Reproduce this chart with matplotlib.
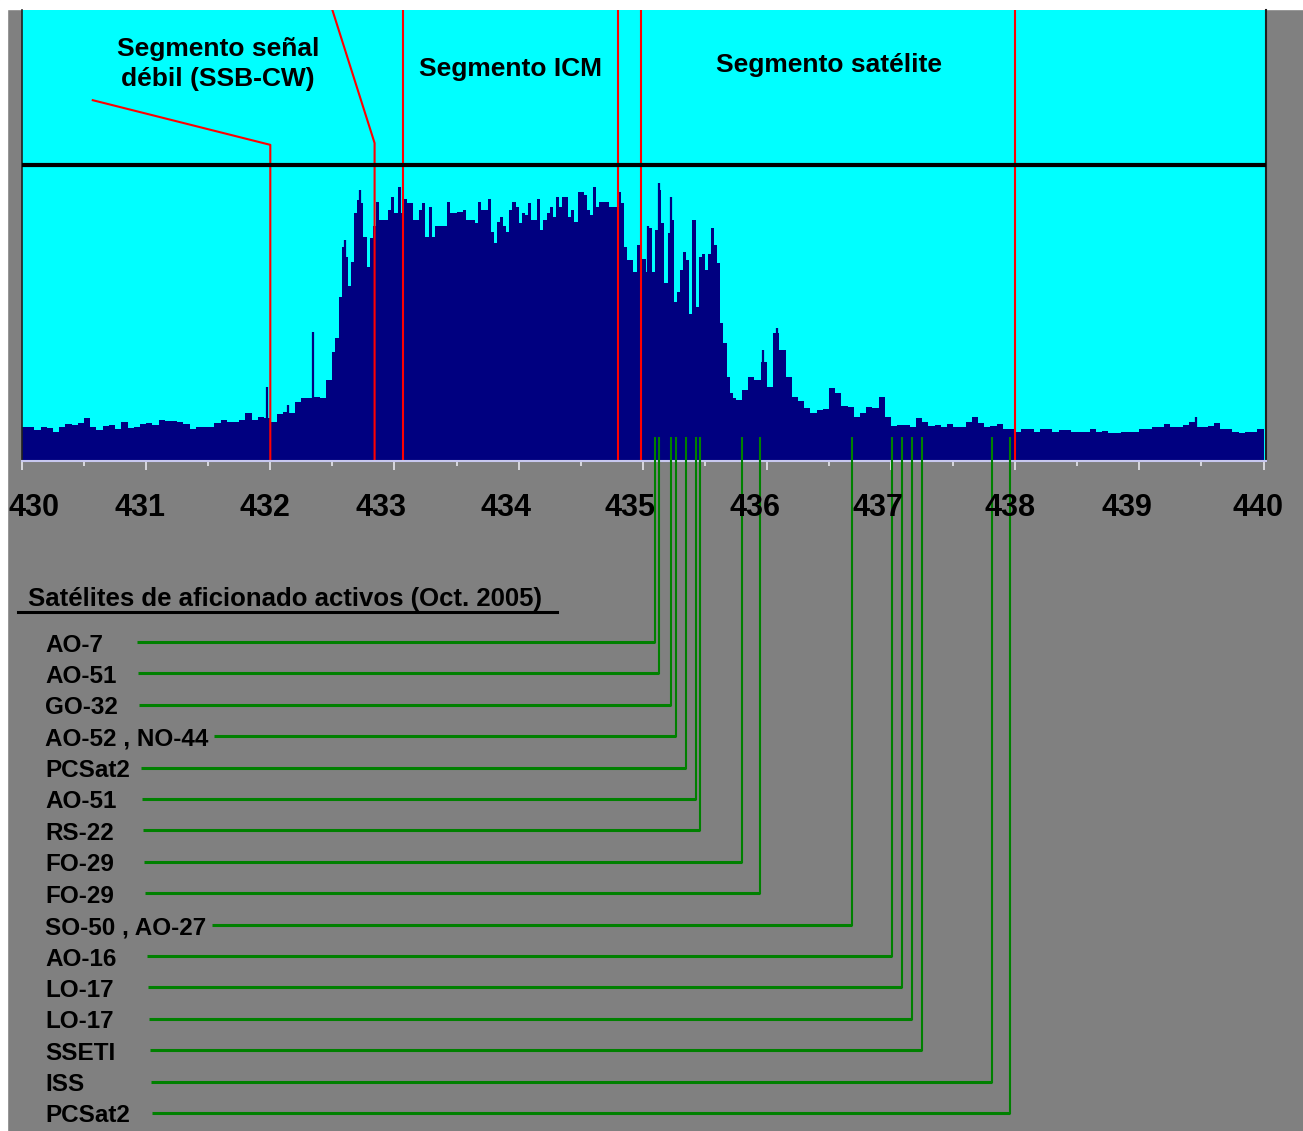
import numpy as np
import matplotlib.pyplot as plt

plt.rcParams['font.family'] = ['Liberation Sans', 'DejaVu Sans']

W, H = 1303, 1131

# spectrum levels in arbitrary units (0-100 = panel height)
# 430.0-432.5 MHz, 0.05 MHz bins
level_low = [
    7.6, 7.5, 6.9, 7.5, 7.3, 6.5, 7.6, 8.2, 8.0, 8.4,
    9.5, 7.5, 6.9, 7.8, 8.0, 7.0, 8.7, 7.3, 7.6, 8.2,
    8.5, 8.0, 9.2, 8.9, 8.9, 8.7, 8.2, 7.0, 7.6, 7.6,
    7.6, 8.5, 9.2, 8.7, 8.7, 9.2, 10.7, 9.1, 9.7, 9.6,
    8.7, 10.5, 10.9, 10.6, 13.1, 13.9, 14.0, 14.3, 13.9, 18.0,
]
# 432.5-435.75 MHz, 0.025 MHz bins (busy part of the band)
level_mid = [
    24.2, 27.2, 36.4, 47.5, 45.3, 38.7, 44.2, 54.9, 57.9, 57.1,
    49.7, 43.1, 49.4, 52.0, 57.5, 53.4, 53.4, 53.4, 55.7, 58.6,
    54.9, 60.8, 54.9, 58.2, 57.1, 57.1, 53.4, 53.4, 55.7, 57.1,
    49.7, 56.4, 49.7, 52.0, 52.0, 52.0, 52.0, 57.5, 54.9, 54.9,
    55.3, 55.3, 55.7, 53.4, 53.4, 53.4, 52.7, 57.5, 55.7, 55.7,
    58.2, 50.8, 48.3, 53.1, 54.2, 52.0, 50.8, 55.7, 57.5, 56.4,
    52.7, 54.9, 54.5, 57.1, 53.4, 53.4, 58.2, 51.2, 53.4, 54.9,
    56.4, 54.2, 58.6, 56.4, 58.6, 58.6, 54.2, 55.7, 53.1, 59.7,
    59.7, 59.0, 55.7, 54.5, 60.8, 56.4, 57.5, 57.5, 57.5, 56.4,
    56.4, 56.4, 59.7, 57.1, 47.5, 44.6, 44.6, 42.0, 47.9, 44.9,
    44.9, 42.0, 51.6, 42.0, 51.2, 60.1, 52.7, 39.4, 50.5, 53.4,
    35.3, 37.5, 42.4, 46.4, 44.6, 32.7, 53.4, 34.2, 45.3, 46.0,
    42.4, 46.0, 51.6, 47.9, 43.8, 30.5, 26.1, 18.7, 15.0, 13.9,
]
# 435.75-440.0 MHz, 0.05 MHz bins
level_high = [
    13.5, 15.7, 18.7, 18.0, 22.0, 16.5, 28.3, 24.6, 18.7, 14.3,
    13.2, 11.7, 10.6, 11.3, 11.5, 16.1, 15.0, 12.2, 11.9, 9.8,
    10.6, 11.9, 11.7, 14.3, 9.8, 7.8, 8.0, 8.0, 7.6, 9.5,
    8.7, 7.8, 8.0, 7.6, 8.2, 7.6, 7.5, 8.7, 9.7, 8.5,
    7.5, 7.8, 8.2, 7.0, 7.2, 6.5, 7.0, 7.2, 6.5, 7.0,
    7.0, 6.5, 6.9, 6.9, 6.5, 6.5, 6.5, 7.2, 6.5, 6.7,
    6.1, 6.3, 6.5, 6.5, 6.5, 7.2, 7.2, 7.5, 7.6, 8.2,
    7.5, 7.5, 7.9, 8.7, 7.6, 7.5, 7.8, 8.5, 7.2, 7.0,
    6.5, 6.1, 6.4, 6.5, 7.0,
]
# narrow carriers sticking out of the bins
spike_f = [431.975, 432.14, 432.345, 432.60, 432.72, 435.04, 435.13, 435.23,
           435.97, 436.08, 439.46]
spike_lv = [16.5, 12.4, 28.7, 49.0, 60.1, 52.0, 61.6, 58.6, 24.6, 29.4, 9.8]

threshold = 65.6
band_lines = [433.065, 434.80, 434.985, 438.0]
leader1_f = [432.0, 432.0, 430.57]
leader1_lv = [0, 70.1, 80.0]
leader2_f = [432.84, 432.84, 432.50]
leader2_lv = [0, 70.5, 100.0]

seg_text = ["Segmento señal\ndébil (SSB-CW)", "Segmento ICM", "Segmento satélite"]
seg_f = [431.58, 433.937, 436.497]
seg_lv = [88.0, 86.9, 87.7]

tick_vals = list(range(430, 441))
tick_dx = [12, -6, -5, -13, -13, -13, -12, -13, -5, -12, -6]

sat_title = "Satélites de aficionado activos (Oct. 2005)"
sat_names = ["AO-7", "AO-51", "GO-32", "AO-52 , NO-44", "PCSat2", "AO-51", "RS-22",
             "FO-29", "FO-29", "SO-50 , AO-27", "AO-16", "LO-17", "LO-17", "SSETI",
             "ISS", "PCSat2"]
sat_f = [435.097, 435.129, 435.225, 435.271, 435.352, 435.432, 435.465, 435.800,
         435.942, 436.688, 437.007, 437.088, 437.168, 437.249, 437.816, 437.961]
marker_top = 5.3

navy = "#000080"
cyan = "#00FFFF"
green = "#008000"

fig = plt.figure(figsize=(W / 100, H / 100), dpi=100, facecolor="#808080")
# white margins of the scan
fig.patches.append(plt.Rectangle((0, 1 - 9 / H), 1, 9 / H, transform=fig.transFigure,
                                 color="white", zorder=-1))
fig.patches.append(plt.Rectangle((0, 0), 7 / W, 1, transform=fig.transFigure,
                                 color="white", zorder=-1))

ax = fig.add_axes([22 / W, (H - 461) / H, 1244 / W, 451 / H])
ax.set_facecolor(cyan)
edges = np.concatenate([
    430.0 + 0.05 * np.arange(len(level_low)),
    432.5 + 0.025 * np.arange(len(level_mid)),
    435.75 + 0.05 * np.arange(len(level_high) + 1),
])
ax.stairs(level_low + level_mid + level_high, edges, fill=True, color=navy,
          baseline=0, zorder=1)
ax.vlines(spike_f, 0, spike_lv, color=navy, lw=1.6, zorder=1.1)
ax.plot(leader1_f, leader1_lv, color="red", lw=1.5, zorder=2)
ax.plot(leader2_f, leader2_lv, color="red", lw=1.5, zorder=2)
ax.vlines(band_lines, 0, 100, color="red", lw=1.5, zorder=2)
ax.axhline(threshold, color="black", lw=3, zorder=3)
for t, f, lv in zip(seg_text, seg_f, seg_lv):
    ax.text(f, lv, t, ha="center", va="center", fontsize=19, fontweight="bold",
            linespacing=1.3, zorder=4)

ax.set_xlim(430, 440.02)
ax.set_ylim(0, 100)
ax.set_xticks(tick_vals)
ax.set_xticks(np.arange(430.5, 440, 1.0), minor=True)
ax.set_xticklabels([])
ax.set_yticks([])
ax.tick_params(axis="x", which="major", length=6.5, width=1.1, color="#F0F0F8")
ax.tick_params(axis="x", which="minor", length=3.5, width=1.1, color="#F0F0F8")
ax.spines["top"].set_visible(False)
ax.spines["bottom"].set_color("#C8C8F0")
ax.spines["bottom"].set_linewidth(1.5)
ax.spines["left"].set_color("#202020")
ax.spines["left"].set_linewidth(1.2)
ax.spines["right"].set_color("#202020")
ax.spines["right"].set_linewidth(1.5)

# overlay in figure pixels for everything below the spectrum
ov = fig.add_axes([0, 0, 1, 1], zorder=5)
ov.set_xlim(0, W)
ov.set_ylim(H, 0)
ov.axis("off")


def px(f):
    return ax.transData.transform((f, 0))[0]


def py(lv):
    return H - ax.transData.transform((430, lv))[1]


for v, dx in zip(tick_vals, tick_dx):
    ov.text(px(v) + dx, 508, str(v), ha="center", va="center", fontsize=22,
            fontweight="bold")

ov.text(28, 599, sat_title, ha="left", va="center", fontsize=18.5, fontweight="bold")
ov.plot([18, 557], [612, 612], color="black", lw=2.2)

renderer = fig.canvas.get_renderer()
top = py(marker_top)
for i, (name, f) in enumerate(zip(sat_names, sat_f)):
    y = 642 + 31.4 * i
    t = ov.text(45, y + 3, name, ha="left", va="center", fontsize=17.5,
                fontweight="bold")
    right = t.get_window_extent(renderer).x1
    x0 = max(137 + i, right + 6)
    xv = px(f)
    ov.plot([x0, xv], [y, y], color=green, lw=2.2, solid_capstyle="butt")
    ov.plot([xv, xv], [y + 1, top], color=green, lw=1.5, solid_capstyle="butt")

fig.savefig("out.png", dpi=100, facecolor=fig.get_facecolor())
